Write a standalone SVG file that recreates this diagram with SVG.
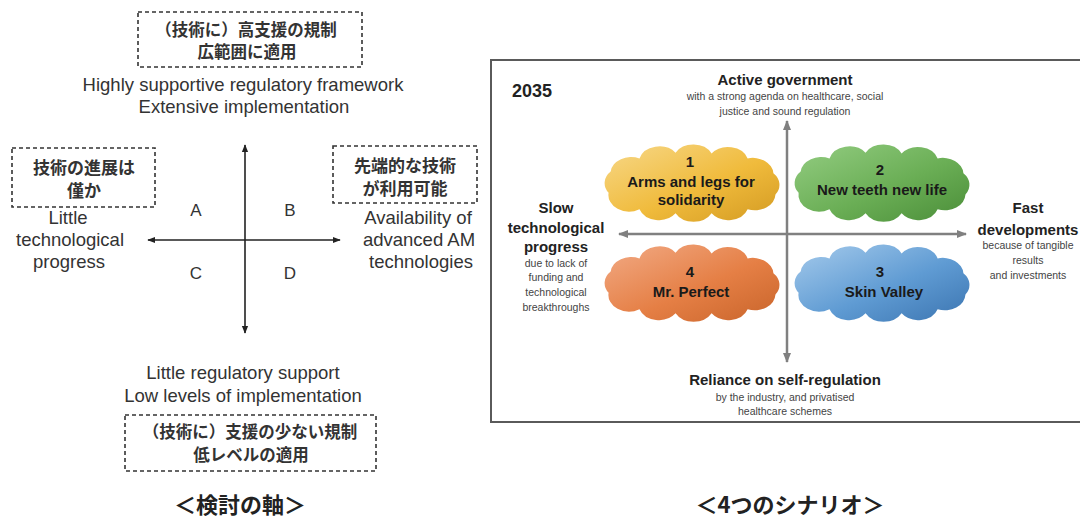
<svg xmlns="http://www.w3.org/2000/svg" xmlns:xlink="http://www.w3.org/1999/xlink" width="1080" height="519" viewBox="0 0 1080 519">
<style>
.en{font-family:"Liberation Sans",Arial,sans-serif;fill:#333}
.jp{font-family:"Noto Sans CJK JP","Noto Sans CJK SC",sans-serif;fill:#333;font-weight:bold}
.dash{fill:none;stroke:#333;stroke-width:1.6;stroke-dasharray:4 3}
.b{font-weight:bold;fill:#222}
.sm{font-size:10.5px;fill:#444}
.hd{font-size:15px}
.ct{font-size:15px;font-weight:bold;fill:#1a1a1a}
</style>
<defs>
<marker id="ak" viewBox="0 0 10 10" refX="9" refY="5" markerWidth="5" markerHeight="5" orient="auto-start-reverse"><path d="M0,1 L10,5 L0,9 Z" fill="#222"/></marker>
<marker id="ag" viewBox="0 0 10 10" refX="9" refY="5" markerWidth="4" markerHeight="4" orient="auto-start-reverse"><path d="M0,1 L10,5 L0,9 Z" fill="#808080"/></marker>
<path id="cloud" d="M-80,12 A20,20 0 0 1 -78,-14 A20,20 0 0 1 -50,-30 A20,20 0 0 1 -15,-37 A20,20 0 0 1 20,-36 A20,20 0 0 1 55,-30 A20,20 0 0 1 80,-12 A20,20 0 0 1 82,14 A20,20 0 0 1 55,32 A20,20 0 0 1 20,37 A20,20 0 0 1 -15,37 A20,20 0 0 1 -50,32 A20,20 0 0 1 -80,12 Z"/>
<linearGradient id="gY" x1="0" y1="0" x2="1" y2="1"><stop offset="0" stop-color="#f7d889"/><stop offset="0.55" stop-color="#f0bb3c"/><stop offset="1" stop-color="#d39a22"/></linearGradient>
<linearGradient id="gG" x1="0" y1="0" x2="1" y2="1"><stop offset="0" stop-color="#94cd82"/><stop offset="0.55" stop-color="#6aae55"/><stop offset="1" stop-color="#4a8d38"/></linearGradient>
<linearGradient id="gO" x1="0" y1="0" x2="1" y2="1"><stop offset="0" stop-color="#f2ab86"/><stop offset="0.55" stop-color="#e57f45"/><stop offset="1" stop-color="#c8642a"/></linearGradient>
<linearGradient id="gB" x1="0" y1="0" x2="1" y2="1"><stop offset="0" stop-color="#a6cbec"/><stop offset="0.55" stop-color="#5f9bd3"/><stop offset="1" stop-color="#3b74b0"/></linearGradient>
</defs>
<rect width="1080" height="519" fill="#fff"/>

<!-- Left diagram -->
<g id="connectors-left">
<line x1="245" y1="333" x2="245" y2="145" stroke="#222" stroke-width="1.6" marker-start="url(#ak)" marker-end="url(#ak)"/>
<line x1="148" y1="240" x2="340" y2="240" stroke="#222" stroke-width="1.6" marker-start="url(#ak)" marker-end="url(#ak)"/>
</g>
<g id="top-node">
<rect class="dash" x="138" y="12" width="224" height="55"/>
<text class="jp" x="246" y="36" font-size="16.5" text-anchor="middle">（技術に）高支援の規制</text>
<text class="jp" x="247" y="58" font-size="16.5" text-anchor="middle">広範囲に適用</text>
<text class="en" x="243" y="91" font-size="18.5" text-anchor="middle">Highly supportive regulatory framework</text>
<text class="en" x="244" y="113" font-size="18.5" text-anchor="middle">Extensive implementation</text>
</g>
<g id="left-node">
<rect class="dash" x="12" y="148" width="143" height="59"/>
<text class="jp" x="84" y="174" font-size="17" text-anchor="middle">技術の進展は</text>
<text class="jp" x="84" y="197" font-size="17" text-anchor="middle">僅か</text>
<text class="en" x="68" y="224" font-size="18.5" text-anchor="middle">Little</text>
<text class="en" x="70" y="246" font-size="18.5" text-anchor="middle">technological</text>
<text class="en" x="69" y="268" font-size="18.5" text-anchor="middle">progress</text>
</g>
<g id="right-node">
<rect class="dash" x="333" y="146" width="144" height="57"/>
<text class="jp" x="405" y="172" font-size="17" text-anchor="middle">先端的な技術</text>
<text class="jp" x="405" y="195" font-size="17" text-anchor="middle">が利用可能</text>
<text class="en" x="418" y="224" font-size="18.5" text-anchor="middle">Availability of</text>
<text class="en" x="419" y="246" font-size="18.5" text-anchor="middle">advanced AM</text>
<text class="en" x="421" y="268" font-size="18.5" text-anchor="middle">technologies</text>
</g>
<g id="quadrants">
<text class="en" x="196" y="216" font-size="17" text-anchor="middle">A</text>
<text class="en" x="290" y="216" font-size="17" text-anchor="middle">B</text>
<text class="en" x="196" y="279" font-size="17" text-anchor="middle">C</text>
<text class="en" x="290" y="279" font-size="17" text-anchor="middle">D</text>
</g>
<g id="bottom-node">
<text class="en" x="243" y="379" font-size="18.5" text-anchor="middle">Little regulatory support</text>
<text class="en" x="243" y="402" font-size="18.5" text-anchor="middle">Low levels of implementation</text>
<rect class="dash" x="125" y="415" width="251" height="56"/>
<text class="jp" x="250" y="438" font-size="16.5" text-anchor="middle">（技術に）支援の少ない規制</text>
<text class="jp" x="251" y="461" font-size="16.5" text-anchor="middle">低レベルの適用</text>
</g>
<text class="jp" x="240" y="513" font-size="22" text-anchor="middle" style="fill:#222">＜検討の軸＞</text>

<!-- Right diagram -->
<rect x="491" y="60" width="610" height="362" fill="#fff" stroke="#5a5a5a" stroke-width="2"/>
<text class="en b" x="512" y="97" font-size="18">2035</text>
<g id="connectors-right">
<line x1="787" y1="362" x2="787" y2="121" stroke="#808080" stroke-width="2.5" marker-start="url(#ag)" marker-end="url(#ag)"/>
<line x1="619" y1="234" x2="966" y2="234" stroke="#808080" stroke-width="2.5" marker-start="url(#ag)" marker-end="url(#ag)"/>
</g>
<g id="axis-top">
<text class="en b hd" x="785" y="85" text-anchor="middle" font-size="15.5">Active government</text>
<text class="en sm" x="785" y="100" text-anchor="middle">with a strong agenda on healthcare, social</text>
<text class="en sm" x="785" y="115" text-anchor="middle">justice and sound regulation</text>
</g>
<g id="axis-left">
<text class="en b hd" x="556" y="213" text-anchor="middle">Slow</text>
<text class="en b hd" x="556" y="233" text-anchor="middle">technological</text>
<text class="en b hd" x="556" y="252" text-anchor="middle">progress</text>
<text class="en sm" x="556" y="267" text-anchor="middle">due to lack of</text>
<text class="en sm" x="556" y="281" text-anchor="middle">funding and</text>
<text class="en sm" x="556" y="296" text-anchor="middle">technological</text>
<text class="en sm" x="556" y="311" text-anchor="middle">breakthroughs</text>
</g>
<g id="axis-right">
<text class="en b hd" x="1028" y="213" text-anchor="middle">Fast</text>
<text class="en b hd" x="1028" y="235" text-anchor="middle">developments</text>
<text class="en sm" x="1028" y="249" text-anchor="middle">because of tangible</text>
<text class="en sm" x="1028" y="264" text-anchor="middle">results</text>
<text class="en sm" x="1028" y="279" text-anchor="middle">and investments</text>
</g>
<g id="axis-bottom">
<text class="en b hd" x="785" y="385" text-anchor="middle" font-size="15.5">Reliance on self-regulation</text>
<text class="en sm" x="785" y="401" text-anchor="middle">by the industry, and privatised</text>
<text class="en sm" x="785" y="415" text-anchor="middle">healthcare schemes</text>
</g>
<g id="scenario-1">
<use xlink:href="#cloud" fill="url(#gY)" transform="translate(691,183) scale(1.03,0.82)"/>
<text class="en ct" x="690" y="167" text-anchor="middle">1</text>
<text class="en ct" x="691" y="187" text-anchor="middle">Arms and legs for</text>
<text class="en ct" x="691" y="205" text-anchor="middle">solidarity</text>
</g>
<g id="scenario-2">
<use xlink:href="#cloud" fill="url(#gG)" transform="translate(881,183) scale(1.03,0.82)"/>
<text class="en ct" x="880" y="175" text-anchor="middle">2</text>
<text class="en ct" x="882" y="195" text-anchor="middle">New teeth new life</text>
</g>
<g id="scenario-4">
<use xlink:href="#cloud" fill="url(#gO)" transform="translate(691,283) scale(1.03,0.82)"/>
<text class="en ct" x="690" y="277" text-anchor="middle">4</text>
<text class="en ct" x="691" y="297" text-anchor="middle">Mr. Perfect</text>
</g>
<g id="scenario-3">
<use xlink:href="#cloud" fill="url(#gB)" transform="translate(881,283) scale(1.03,0.82)"/>
<text class="en ct" x="880" y="277" text-anchor="middle">3</text>
<text class="en ct" x="884" y="297" text-anchor="middle">Skin Valley</text>
</g>
<text class="jp" x="790" y="513" font-size="22" text-anchor="middle" style="fill:#222">＜4つのシナリオ＞</text>
</svg>
